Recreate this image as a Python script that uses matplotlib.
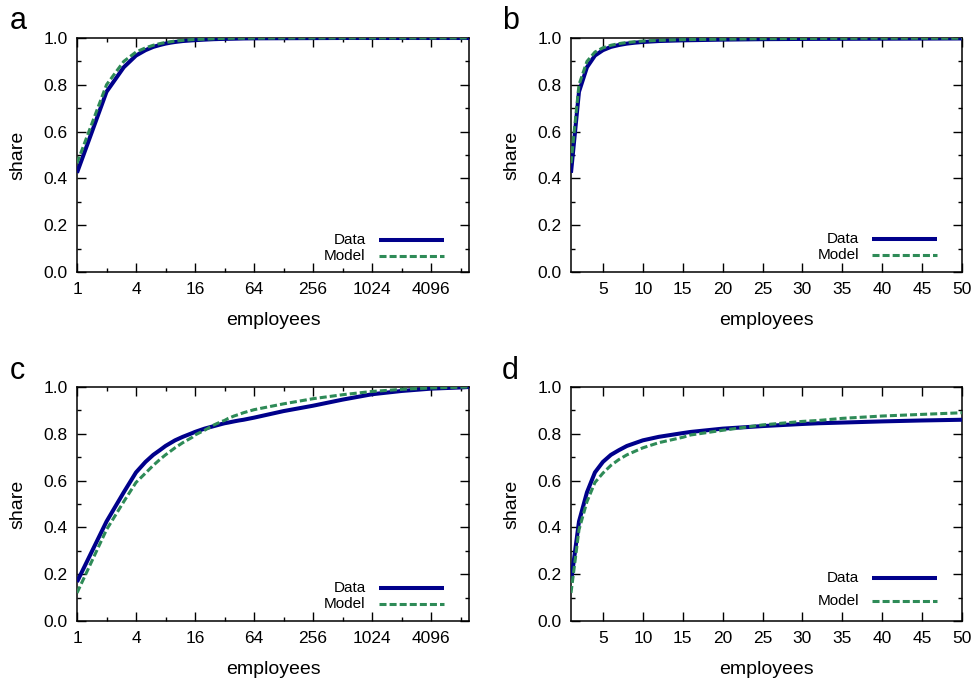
import matplotlib
matplotlib.use("Agg")
import matplotlib.pyplot as plt
from matplotlib.ticker import FixedLocator, NullFormatter, FixedFormatter, NullLocator
from matplotlib.lines import Line2D

plt.rcParams['font.family'] = ['Liberation Sans', 'DejaVu Sans']

# ---------------- data ----------------
# panels a / b (same dataset, log and linear views)
emp_ab = [1, 2, 3, 4, 5, 6, 7, 8, 9, 10, 12, 15, 20, 25, 30, 40, 50,
          64, 128, 256, 512, 1024, 2048, 4096, 8192, 10000]
data_ab = [0.424, 0.77, 0.875, 0.925, 0.948, 0.962, 0.970, 0.976, 0.980, 0.983,
           0.987, 0.990, 0.993, 0.995, 0.996, 0.997, 0.998,
           0.9985, 0.999, 0.9995, 1.0, 1.0, 1.0, 1.0, 1.0, 1.0]
model_ab = [0.465, 0.80, 0.90, 0.94, 0.958, 0.969, 0.976, 0.981, 0.984, 0.987,
            0.990, 0.993, 0.995, 0.997, 0.998, 0.999, 0.999,
            0.9995, 1.0, 1.0, 1.0, 1.0, 1.0, 1.0, 1.0, 1.0]

# panels c / d
emp_cd = [1, 2, 3, 4, 5, 6, 7, 8, 10, 12, 15, 16, 20, 25, 30, 32, 35, 40, 45, 50,
          64, 128, 256, 512, 1024, 2048, 4096, 8192, 10000]
data_cd = [0.167, 0.425, 0.55, 0.635, 0.68, 0.71, 0.73, 0.748, 0.772, 0.787,
           0.803, 0.808, 0.822, 0.833, 0.842, 0.845, 0.848, 0.853, 0.857, 0.86,
           0.869, 0.897, 0.92, 0.946, 0.969, 0.983, 0.993, 0.998, 1.0]
model_cd = [0.12, 0.39, 0.51, 0.592, 0.632, 0.665, 0.69, 0.71, 0.74, 0.762,
            0.785, 0.795, 0.815, 0.838, 0.853, 0.857, 0.866, 0.876, 0.883, 0.89,
            0.903, 0.928, 0.95, 0.967, 0.981, 0.99, 0.996, 0.999, 1.0]

panel_letters = ['a', 'b', 'c', 'd']
log_major = [1, 4, 16, 64, 256, 1024, 4096]
log_minor = [2, 8, 32, 128, 512, 2048, 8192]
lin_major = [5, 10, 15, 20, 25, 30, 35, 40, 45, 50]
y_major = [0.0, 0.2, 0.4, 0.6, 0.8, 1.0]
y_minor = [0.1, 0.3, 0.5, 0.7, 0.9]

DATA_COLOR = '#00008b'
MODEL_COLOR = '#2e8b57'

W, H = 975, 681
fig = plt.figure(figsize=(W / 100, H / 100), dpi=100)


def add_axes(l, t, r, b):
    return fig.add_axes([l / W, 1 - b / H, (r - l) / W, (b - t) / H])


axes = [add_axes(77, 38, 469, 272), add_axes(571, 38, 962, 272),
        add_axes(77, 387, 469, 621), add_axes(571, 387, 962, 621)]

legend_y = [(0.137, 0.068), (0.141, 0.073), (0.141, 0.073), (0.184, 0.085)]
letter_pos = [(10, 29), (502, 29), (10, 379), (502, 379)]

for i, ax in enumerate(axes):
    if i in (0, 2):
        x, d, m = (emp_ab, data_ab, model_ab) if i == 0 else (emp_cd, data_cd, model_cd)
        ax.set_xscale('log', base=2)
        ax.set_xlim(1, 10000)
        ax.xaxis.set_major_locator(FixedLocator(log_major))
        ax.xaxis.set_major_formatter(FixedFormatter([str(v) for v in log_major]))
        ax.xaxis.set_minor_locator(FixedLocator(log_minor))
        ax.xaxis.set_minor_formatter(NullFormatter())
    else:
        xs, ds, ms = (emp_ab, data_ab, model_ab) if i == 1 else (emp_cd, data_cd, model_cd)
        x = [v for v in xs if v <= 50]
        d = ds[:len(x)]
        m = ms[:len(x)]
        ax.set_xlim(1, 50)
        ax.xaxis.set_major_locator(FixedLocator(lin_major))
        ax.xaxis.set_minor_locator(NullLocator())

    ax.plot(x, d, color=DATA_COLOR, lw=2.9, solid_capstyle='butt', zorder=3)
    ax.plot(x, m, color=MODEL_COLOR, lw=2.2, dashes=(2.3, 1.0), dash_capstyle='butt', zorder=4)

    ax.set_ylim(0, 1)
    ax.yaxis.set_major_locator(FixedLocator(y_major))
    ax.yaxis.set_major_formatter(FixedFormatter(['%.1f' % v for v in y_major]))
    ax.yaxis.set_minor_locator(FixedLocator(y_minor))

    ax.tick_params(which='both', direction='in', top=True, right=True, width=1.0, color='black')
    ax.tick_params(which='major', length=6.5)
    ax.tick_params(which='minor', length=3.2)
    ax.tick_params(axis='x', which='major', labelsize=12.5, pad=7.5)
    ax.tick_params(axis='y', which='major', labelsize=12.5, pad=6.5)
    for sp in ax.spines.values():
        sp.set_linewidth(1.1)

    ax.set_xlabel('employees', fontsize=14)
    ax.xaxis.set_label_coords(0.5, -0.172)
    ax.set_ylabel('share', fontsize=14)
    ax.yaxis.set_label_coords(-0.13, 0.5)

    # legend (gnuplot style: right-aligned text then sample)
    yd, ymod = legend_y[i]
    ax.text(0.736, yd, 'Data', transform=ax.transAxes, ha='right', va='center', fontsize=11)
    ax.text(0.736, ymod, 'Model', transform=ax.transAxes, ha='right', va='center', fontsize=11)
    ax.add_line(Line2D([0.771, 0.937], [yd, yd], transform=ax.transAxes,
                       color=DATA_COLOR, lw=2.9, solid_capstyle='butt'))
    ax.add_line(Line2D([0.771, 0.937], [ymod, ymod], transform=ax.transAxes,
                       color=MODEL_COLOR, lw=2.2, dashes=(2.3, 1.0), dash_capstyle='butt'))

    lx, ly = letter_pos[i]
    fig.text(lx / W, 1 - ly / H, panel_letters[i], fontsize=22, ha='left', va='baseline')

fig.savefig('out.png', dpi=100)
